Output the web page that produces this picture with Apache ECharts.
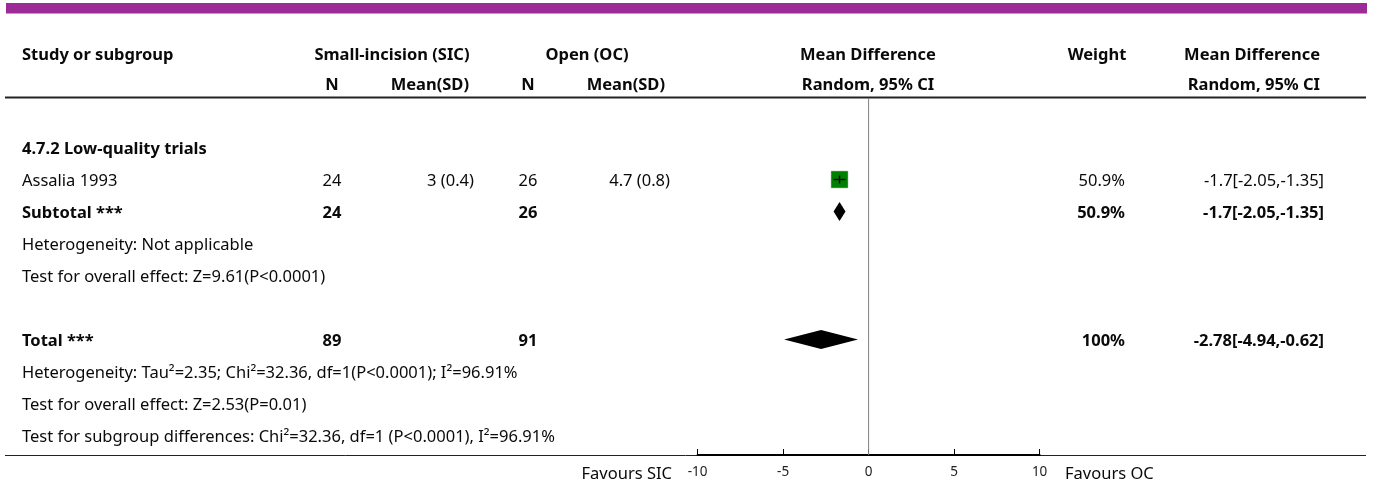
<!DOCTYPE html>
<html>
<head>
<meta charset="utf-8">
<script src="https://cdn.jsdelivr.net/npm/echarts@6/dist/echarts.min.js"></script>
<style>
  html, body { margin: 0; padding: 0; background: #fff; }
  #chart { width: 1373px; height: 488px; }
</style>
</head>
<body>
<div id="chart"></div>
<script>
// ---- data ----
const subgroupTitle = '4.7.2 Low-quality trials';
const studyNames = ['Assalia 1993'];
const sicN = [24];
const sicMeanSD = ['3 (0.4)'];
const ocN = [26];
const ocMeanSD = ['4.7 (0.8)'];
const studyMD = [-1.7];
const studyLo = [-2.05];
const studyHi = [-1.35];
const studyWeight = [50.9];

const subtotalN = [24, 26];
const subtotalMD = -1.7, subtotalLo = -2.05, subtotalHi = -1.35, subtotalWeight = 50.9;
const subtotalNotes = ['Heterogeneity: Not applicable', 'Test for overall effect: Z=9.61(P<0.0001)'];

const totalN = [89, 91];
const totalMD = -2.78, totalLo = -4.94, totalHi = -0.62, totalWeight = 100;
const totalNotes = [
  'Heterogeneity: Tau\u00b2=2.35; Chi\u00b2=32.36, df=1(P<0.0001); I\u00b2=96.91%',
  'Test for overall effect: Z=2.53(P=0.01)',
  'Test for subgroup differences: Chi\u00b2=32.36, df=1 (P<0.0001), I\u00b2=96.91%'
];
const axisTicks = [-10, -5, 0, 5, 10];

// ---- layout: row slots on the y axis ----
const ROW = { group: 0, study0: 1, subtotal: 2, subNote0: 3, total: 6, totNote0: 7 };
const FONT = '"Noto Sans", "Open Sans", sans-serif';
const FS = 16.5;
const fmtCI = (m, l, h) => m + '[' + l + ',' + h + ']';

const chart = echarts.init(document.getElementById('chart'), null, { renderer: 'canvas' });

const studyData = studyMD.map((m, i) => [m, studyLo[i], studyHi[i], ROW.study0 + i, studyWeight[i]]);
const diamondData = [
  [subtotalMD, subtotalLo, subtotalHi, ROW.subtotal],
  [totalMD, totalLo, totalHi, ROW.total]
];

chart.setOption({
  animation: false,
  grid: { left: 697.6, top: 98, width: 342, height: 357 },
  xAxis: {
    type: 'value', min: -10, max: 10, interval: 5,
    axisLine: { show: true, onZero: false, lineStyle: { color: '#000', width: 2 } },
    axisTick: { show: true, inside: true, length: 6, lineStyle: { color: '#000', width: 1 } },
    axisLabel: { show: true, color: '#222', fontSize: 13.5, fontFamily: FONT, margin: 10,
      customValues: axisTicks },
    splitLine: { show: false }
  },
  yAxis: {
    type: 'value', inverse: true, min: -1.547, max: 9.609,
    show: false, splitLine: { show: false }
  },
  series: [
    {
      // zero reference line
      type: 'line', silent: true, symbol: 'none',
      data: [[0, -1.547], [0, 9.609]],
      lineStyle: { color: '#808080', width: 1 }
    },
    {
      type: 'custom', silent: true,
      data: studyData,
      renderItem: function (params, api) {
        const c = api.coord([api.value(0), api.value(3)]);
        const l = api.coord([api.value(1), api.value(3)]);
        const h = api.coord([api.value(2), api.value(3)]);
        const s = 16.4 * Math.sqrt(api.value(4) / 50.9);
        return {
          type: 'group',
          children: [
            { type: 'rect', shape: { x: c[0] - s / 2, y: c[1] - s / 2, width: s, height: s },
              style: { fill: '#008000', stroke: '#0a6a0a', lineWidth: 0.5 } },
            { type: 'line', shape: { x1: l[0], y1: c[1], x2: h[0], y2: c[1] },
              style: { stroke: '#000', lineWidth: 1.4 } },
            { type: 'line', shape: { x1: c[0], y1: c[1] - 4, x2: c[0], y2: c[1] + 4 },
              style: { stroke: '#000', lineWidth: 1.4 } }
          ]
        };
      }
    },
    {
      type: 'custom', silent: true,
      data: diamondData,
      renderItem: function (params, api) {
        const c = api.coord([api.value(0), api.value(3)]);
        const l = api.coord([api.value(1), api.value(3)]);
        const h = api.coord([api.value(2), api.value(3)]);
        const hh = 9.6;
        return {
          type: 'polygon',
          shape: { points: [[l[0], c[1]], [c[0], c[1] - hh], [h[0], c[1]], [c[0], c[1] + hh]] },
          style: { fill: '#000' }
        };
      }
    }
  ]
});

// ---- table text, placed on the same row scale ----
const yOf = r => chart.convertToPixel({ yAxisIndex: 0 }, r) + 1.5;
const txt = (text, x, y, align, bold, size, color) => ({
  type: 'text', silent: true,
  style: {
    text: String(text), x: x, y: y, align: align || 'left', verticalAlign: 'middle',
    font: (bold ? 'bold ' : '') + (size || FS) + 'px ' + FONT, fill: color || '#0a0a0a'
  }
});

const g = [];
// top banner
g.push({ type: 'rect', silent: true, shape: { x: 6, y: 3, width: 1361, height: 10.5 }, style: { fill: '#9c2a97' } });
// headers
g.push(txt('Study or subgroup', 22, 55.5, 'left', true));
g.push(txt('Small-incision (SIC)', 392, 55.5, 'center', true));
g.push(txt('Open (OC)', 587, 55.5, 'center', true));
g.push(txt('Mean Difference', 868, 55.5, 'center', true));
g.push(txt('Weight', 1097, 55.5, 'center', true));
g.push(txt('Mean Difference', 1320, 55.5, 'right', true));
g.push(txt('N', 332, 85.5, 'center', true));
g.push(txt('Mean(SD)', 469, 85.5, 'right', true));
g.push(txt('N', 528, 85.5, 'center', true));
g.push(txt('Mean(SD)', 665, 85.5, 'right', true));
g.push(txt('Random, 95% CI', 868, 85.5, 'center', true));
g.push(txt('Random, 95% CI', 1320, 85.5, 'right', true));
// header rule and bottom rule
g.push({ type: 'line', silent: true, shape: { x1: 5, y1: 97.5, x2: 1366, y2: 97.5 }, style: { stroke: '#222', lineWidth: 2 } });
g.push({ type: 'line', silent: true, shape: { x1: 5, y1: 455.5, x2: 1366, y2: 455.5 }, style: { stroke: '#222', lineWidth: 1 } });

// subgroup block
g.push(txt(subgroupTitle, 22, yOf(ROW.group), 'left', true));
studyNames.forEach((n, i) => {
  const y = yOf(ROW.study0 + i);
  g.push(txt(n, 22, y));
  g.push(txt(sicN[i], 332, y, 'center'));
  g.push(txt(sicMeanSD[i], 474, y, 'right'));
  g.push(txt(ocN[i], 528, y, 'center'));
  g.push(txt(ocMeanSD[i], 670, y, 'right'));
  g.push(txt(studyWeight[i] + '%', 1125, y, 'right'));
  g.push(txt(fmtCI(studyMD[i], studyLo[i], studyHi[i]), 1324, y, 'right'));
});
let y = yOf(ROW.subtotal);
g.push(txt('Subtotal ***', 22, y, 'left', true));
g.push(txt(subtotalN[0], 332, y, 'center', true));
g.push(txt(subtotalN[1], 528, y, 'center', true));
g.push(txt(subtotalWeight + '%', 1125, y, 'right', true));
g.push(txt(fmtCI(subtotalMD, subtotalLo, subtotalHi), 1324, y, 'right', true));
subtotalNotes.forEach((t, i) => g.push(txt(t, 22, yOf(ROW.subNote0 + i))));

// overall
y = yOf(ROW.total);
g.push(txt('Total ***', 22, y, 'left', true));
g.push(txt(totalN[0], 332, y, 'center', true));
g.push(txt(totalN[1], 528, y, 'center', true));
g.push(txt(totalWeight + '%', 1125, y, 'right', true));
g.push(txt(fmtCI(totalMD, totalLo, totalHi), 1324, y, 'right', true));
totalNotes.forEach((t, i) => g.push(txt(t, 22, yOf(ROW.totNote0 + i))));

// axis captions
g.push(txt('Favours SIC', 672, 474, 'right'));
g.push(txt('Favours OC', 1065, 474, 'left'));

chart.setOption({ graphic: g });
</script>
</body>
</html>
